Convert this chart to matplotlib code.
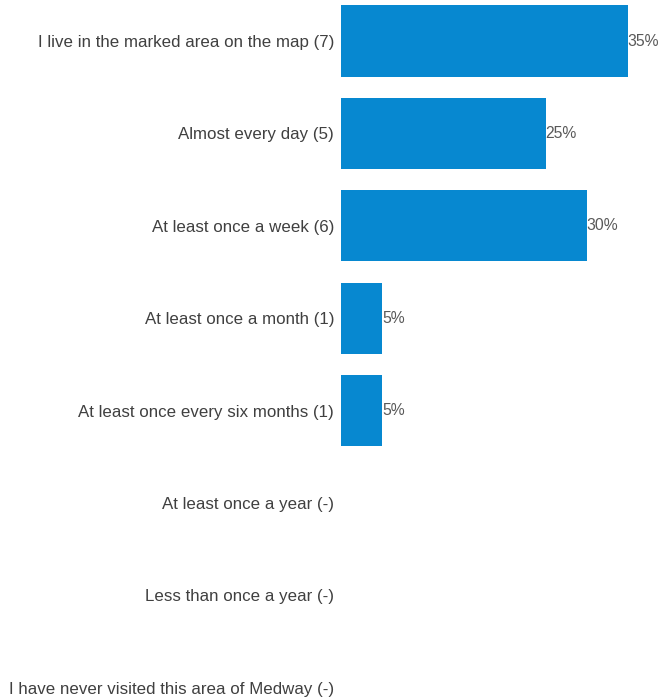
import numpy as np
import matplotlib.pyplot as plt

plt.rcParams['font.family'] = ['Liberation Sans', 'DejaVu Sans']

categories = [
    'I live in the marked area on the map (7)',
    'Almost every day (5)',
    'At least once a week (6)',
    'At least once a month (1)',
    'At least once every six months (1)',
    'At least once a year (-)',
    'Less than once a year (-)',
    'I have never visited this area of Medway (-)',
]
percent = [35, 25, 30, 5, 5, 0, 0, 0]

fig = plt.figure(figsize=(6.62, 6.99), dpi=100)
ax = fig.add_axes([341 / 662, 0, 1 - 341 / 662, 1])

y = np.arange(len(categories))
ax.barh(y, percent, height=0.77, color='#0788d0')

for yi, v in zip(y, percent):
    if v > 0:
        ax.text(v, yi, '{}%'.format(v), va='center', ha='left',
                fontsize=11.3, color='#595959')

ax.set_xlim(0, 39.2)
ax.set_ylim(7.12, -0.444)
ax.set_yticks(y)
ax.set_yticklabels(categories, fontsize=12.2, color='#404040')
ax.tick_params(axis='y', length=0, pad=5)
ax.set_xticks([])
for s in ax.spines.values():
    s.set_visible(False)

fig.savefig('out.png', dpi=100)
